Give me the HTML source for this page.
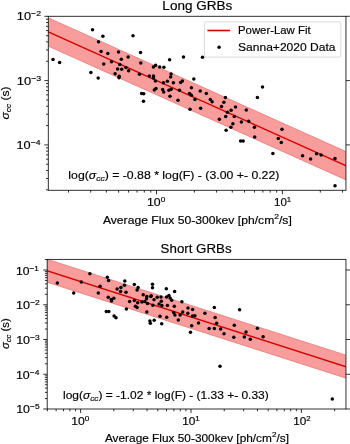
<!DOCTYPE html><html><head><meta charset="utf-8"><style>html,body{margin:0;padding:0;background:#fff;overflow:hidden}svg{display:block}</style></head><body><svg width="350" height="444" viewBox="0 0 350 444">
<filter id="bl" x="0" y="0" width="1" height="1"><feGaussianBlur stdDeviation="0.32"/></filter><g filter="url(#bl)">
<rect width="350" height="444" fill="#fff"/>
<clipPath id="c1"><rect x="48.3" y="16.3" width="297.65" height="174.0"/></clipPath>
<g clip-path="url(#c1)">
<polygon points="46.30,16.93 347.95,152.50 347.95,180.79 46.30,45.22" fill="#f89c9c" stroke="#ec8282" stroke-width="0.9"/>
<line x1="46.30" y1="31.07" x2="347.95" y2="166.64" stroke="#d40000" stroke-width="1.4"/>
<circle cx="92.5" cy="29.7" r="1.75"/>
<circle cx="102.9" cy="36.3" r="1.75"/>
<circle cx="98.5" cy="41.7" r="1.75"/>
<circle cx="101.1" cy="51.5" r="1.75"/>
<circle cx="107.8" cy="53.6" r="1.75"/>
<circle cx="118.5" cy="52.0" r="1.75"/>
<circle cx="53" cy="59.6" r="1.75"/>
<circle cx="59.6" cy="62.4" r="1.75"/>
<circle cx="103.7" cy="63.9" r="1.75"/>
<circle cx="111.5" cy="61.7" r="1.75"/>
<circle cx="117.6" cy="69.0" r="1.75"/>
<circle cx="90.9" cy="72.5" r="1.75"/>
<circle cx="115.1" cy="73.8" r="1.75"/>
<circle cx="98.2" cy="78.1" r="1.75"/>
<circle cx="133" cy="35.8" r="1.75"/>
<circle cx="140.5" cy="52.5" r="1.75"/>
<circle cx="128.1" cy="57.1" r="1.75"/>
<circle cx="121.3" cy="59.3" r="1.75"/>
<circle cx="169.6" cy="59.7" r="1.75"/>
<circle cx="140.8" cy="63.1" r="1.75"/>
<circle cx="119.8" cy="64.5" r="1.75"/>
<circle cx="155.6" cy="65.2" r="1.75"/>
<circle cx="153.4" cy="67.1" r="1.75"/>
<circle cx="159.7" cy="67.0" r="1.75"/>
<circle cx="163.9" cy="67.3" r="1.75"/>
<circle cx="121.7" cy="69.3" r="1.75"/>
<circle cx="125.9" cy="67.5" r="1.75"/>
<circle cx="128.6" cy="70.8" r="1.75"/>
<circle cx="119.2" cy="76.2" r="1.75"/>
<circle cx="119.0" cy="77.8" r="1.75"/>
<circle cx="139.5" cy="74.2" r="1.75"/>
<circle cx="149.3" cy="75.9" r="1.75"/>
<circle cx="153.5" cy="76.0" r="1.75"/>
<circle cx="153.5" cy="77.9" r="1.75"/>
<circle cx="155.4" cy="81.1" r="1.75"/>
<circle cx="163.4" cy="82.7" r="1.75"/>
<circle cx="167.4" cy="81.2" r="1.75"/>
<circle cx="171.1" cy="74.0" r="1.75"/>
<circle cx="170.6" cy="77.1" r="1.75"/>
<circle cx="173.4" cy="82.7" r="1.75"/>
<circle cx="183.5" cy="57.1" r="1.75"/>
<circle cx="202.5" cy="57.2" r="1.75"/>
<circle cx="193.8" cy="78.9" r="1.75"/>
<circle cx="180.6" cy="82.4" r="1.75"/>
<circle cx="182.4" cy="81.1" r="1.75"/>
<circle cx="154.3" cy="90" r="1.75"/>
<circle cx="156" cy="88.4" r="1.75"/>
<circle cx="162.6" cy="89.6" r="1.75"/>
<circle cx="163.7" cy="92.0" r="1.75"/>
<circle cx="168.9" cy="90.2" r="1.75"/>
<circle cx="171.1" cy="89.2" r="1.75"/>
<circle cx="179.5" cy="90.3" r="1.75"/>
<circle cx="141.6" cy="93.5" r="1.75"/>
<circle cx="143.7" cy="93.8" r="1.75"/>
<circle cx="143.5" cy="101.2" r="1.75"/>
<circle cx="170" cy="96.3" r="1.75"/>
<circle cx="178" cy="100.2" r="1.75"/>
<circle cx="191.4" cy="87.7" r="1.75"/>
<circle cx="200.2" cy="91.1" r="1.75"/>
<circle cx="206.3" cy="93.4" r="1.75"/>
<circle cx="189.5" cy="93.6" r="1.75"/>
<circle cx="191.4" cy="95.2" r="1.75"/>
<circle cx="194.9" cy="99.4" r="1.75"/>
<circle cx="210.3" cy="99.4" r="1.75"/>
<circle cx="212.1" cy="101.8" r="1.75"/>
<circle cx="190" cy="109.3" r="1.75"/>
<circle cx="200.6" cy="108.2" r="1.75"/>
<circle cx="225.4" cy="97.5" r="1.75"/>
<circle cx="223.9" cy="102.3" r="1.75"/>
<circle cx="221.5" cy="106.4" r="1.75"/>
<circle cx="235.5" cy="106.9" r="1.75"/>
<circle cx="231.1" cy="110.2" r="1.75"/>
<circle cx="227.4" cy="112.3" r="1.75"/>
<circle cx="225.7" cy="116.6" r="1.75"/>
<circle cx="246.3" cy="110.1" r="1.75"/>
<circle cx="234.3" cy="116.6" r="1.75"/>
<circle cx="219.4" cy="119.2" r="1.75"/>
<circle cx="241.4" cy="121.9" r="1.75"/>
<circle cx="248.6" cy="121.2" r="1.75"/>
<circle cx="232.9" cy="123.8" r="1.75"/>
<circle cx="230.9" cy="127.2" r="1.75"/>
<circle cx="226.1" cy="130.3" r="1.75"/>
<circle cx="254.4" cy="127.3" r="1.75"/>
<circle cx="254.7" cy="137.1" r="1.75"/>
<circle cx="282" cy="129.2" r="1.75"/>
<circle cx="278.3" cy="138.5" r="1.75"/>
<circle cx="281.3" cy="142.6" r="1.75"/>
<circle cx="316.6" cy="153.8" r="1.75"/>
<circle cx="302.6" cy="155.7" r="1.75"/>
<circle cx="310.6" cy="159.1" r="1.75"/>
<circle cx="321.1" cy="155.0" r="1.75"/>
<circle cx="335.0" cy="158.6" r="1.75"/>
<circle cx="335.0" cy="185.8" r="1.75"/>
<circle cx="240.6" cy="140.9" r="1.75"/>
<circle cx="243.2" cy="141.1" r="1.75"/>
<circle cx="272.9" cy="153.4" r="1.75"/>
<circle cx="262.5" cy="87.1" r="1.75"/>
<circle cx="257.4" cy="97.4" r="1.75"/>
</g>
<rect x="48.3" y="16.3" width="297.65" height="174.00" fill="none" stroke="#1a1a1a" stroke-width="0.9"/>
<path d="M156.50,190.3v4M282.40,190.3v4M68.50,190.3v2.3M90.67,190.3v2.3M106.40,190.3v2.3M118.60,190.3v2.3M128.57,190.3v2.3M137.00,190.3v2.3M144.30,190.3v2.3M150.74,190.3v2.3M194.40,190.3v2.3M216.57,190.3v2.3M232.30,190.3v2.3M244.50,190.3v2.3M254.47,190.3v2.3M262.90,190.3v2.3M270.20,190.3v2.3M276.64,190.3v2.3M320.30,190.3v2.3M342.47,190.3v2.3M48.3,16.30h-4M345.95,16.30h4M48.3,80.60h-4M345.95,80.60h4M48.3,144.90h-4M345.95,144.90h4M48.3,189.84h-2.3M48.3,178.52h-2.3M48.3,170.49h-2.3M48.3,164.26h-2.3M48.3,159.16h-2.3M48.3,154.86h-2.3M48.3,151.13h-2.3M48.3,147.84h-2.3M48.3,125.54h-2.3M48.3,114.22h-2.3M48.3,106.19h-2.3M48.3,99.96h-2.3M48.3,94.86h-2.3M48.3,90.56h-2.3M48.3,86.83h-2.3M48.3,83.54h-2.3M48.3,61.24h-2.3M48.3,49.92h-2.3M48.3,41.89h-2.3M48.3,35.66h-2.3M48.3,30.56h-2.3M48.3,26.26h-2.3M48.3,22.53h-2.3M48.3,19.24h-2.3" stroke="#000" stroke-width="0.8" fill="none"/>
<clipPath id="c2"><rect x="47.2" y="259.4" width="298.75" height="149.60000000000002"/></clipPath>
<g clip-path="url(#c2)">
<polygon points="45.20,258.63 347.95,355.84 347.95,378.77 45.20,281.57" fill="#f89c9c" stroke="#ec8282" stroke-width="0.9"/>
<line x1="45.20" y1="270.10" x2="347.95" y2="367.30" stroke="#d40000" stroke-width="1.4"/>
<circle cx="57.3" cy="283" r="1.75"/>
<circle cx="73.7" cy="293" r="1.75"/>
<circle cx="81.3" cy="282" r="1.75"/>
<circle cx="89.9" cy="273.7" r="1.75"/>
<circle cx="100.1" cy="286.2" r="1.75"/>
<circle cx="98.3" cy="292.9" r="1.75"/>
<circle cx="107.3" cy="277.2" r="1.75"/>
<circle cx="108.6" cy="280.4" r="1.75"/>
<circle cx="108.2" cy="297.2" r="1.75"/>
<circle cx="111.2" cy="299.4" r="1.75"/>
<circle cx="113.8" cy="298.3" r="1.75"/>
<circle cx="111.5" cy="301" r="1.75"/>
<circle cx="117.1" cy="289" r="1.75"/>
<circle cx="120.9" cy="287.4" r="1.75"/>
<circle cx="120.6" cy="291.6" r="1.75"/>
<circle cx="124.8" cy="280.9" r="1.75"/>
<circle cx="124.5" cy="285.3" r="1.75"/>
<circle cx="126" cy="292.3" r="1.75"/>
<circle cx="129.6" cy="301.6" r="1.75"/>
<circle cx="126.4" cy="309" r="1.75"/>
<circle cx="106.3" cy="311.4" r="1.75"/>
<circle cx="108.8" cy="311.4" r="1.75"/>
<circle cx="114.1" cy="316" r="1.75"/>
<circle cx="116" cy="317.7" r="1.75"/>
<circle cx="134.3" cy="284.4" r="1.75"/>
<circle cx="138.1" cy="287.6" r="1.75"/>
<circle cx="137.1" cy="289.9" r="1.75"/>
<circle cx="152.5" cy="284.2" r="1.75"/>
<circle cx="152.5" cy="287.8" r="1.75"/>
<circle cx="166.3" cy="288.8" r="1.75"/>
<circle cx="174.6" cy="291.5" r="1.75"/>
<circle cx="143.2" cy="294.7" r="1.75"/>
<circle cx="146.8" cy="296.4" r="1.75"/>
<circle cx="146.6" cy="298.8" r="1.75"/>
<circle cx="151.2" cy="295.8" r="1.75"/>
<circle cx="150.8" cy="296.6" r="1.75"/>
<circle cx="157.2" cy="297.3" r="1.75"/>
<circle cx="154" cy="299.7" r="1.75"/>
<circle cx="161" cy="297.1" r="1.75"/>
<circle cx="166.5" cy="297.0" r="1.75"/>
<circle cx="168.9" cy="295.4" r="1.75"/>
<circle cx="170.1" cy="298.1" r="1.75"/>
<circle cx="171.7" cy="300.3" r="1.75"/>
<circle cx="134.3" cy="300.6" r="1.75"/>
<circle cx="137.7" cy="302.8" r="1.75"/>
<circle cx="141.9" cy="302.1" r="1.75"/>
<circle cx="144.8" cy="301.4" r="1.75"/>
<circle cx="147.5" cy="303.4" r="1.75"/>
<circle cx="152.9" cy="305.2" r="1.75"/>
<circle cx="161.3" cy="301.3" r="1.75"/>
<circle cx="159.1" cy="304" r="1.75"/>
<circle cx="161.9" cy="305.4" r="1.75"/>
<circle cx="135.4" cy="306.3" r="1.75"/>
<circle cx="137.1" cy="307.6" r="1.75"/>
<circle cx="146.8" cy="311.9" r="1.75"/>
<circle cx="160" cy="316.3" r="1.75"/>
<circle cx="166.7" cy="317.2" r="1.75"/>
<circle cx="161.7" cy="323.7" r="1.75"/>
<circle cx="149.9" cy="321" r="1.75"/>
<circle cx="154.2" cy="320.2" r="1.75"/>
<circle cx="150.3" cy="323.3" r="1.75"/>
<circle cx="167.4" cy="305.4" r="1.75"/>
<circle cx="174.3" cy="306.3" r="1.75"/>
<circle cx="181.9" cy="301.7" r="1.75"/>
<circle cx="188" cy="308" r="1.75"/>
<circle cx="192.6" cy="309.5" r="1.75"/>
<circle cx="182.7" cy="312" r="1.75"/>
<circle cx="187.8" cy="313.2" r="1.75"/>
<circle cx="173.7" cy="312.6" r="1.75"/>
<circle cx="174.9" cy="315.1" r="1.75"/>
<circle cx="180.1" cy="315.1" r="1.75"/>
<circle cx="192.5" cy="316.1" r="1.75"/>
<circle cx="194.9" cy="315.7" r="1.75"/>
<circle cx="178.3" cy="320" r="1.75"/>
<circle cx="191.7" cy="325.8" r="1.75"/>
<circle cx="190.5" cy="332.3" r="1.75"/>
<circle cx="214.3" cy="307.4" r="1.75"/>
<circle cx="204.9" cy="313.2" r="1.75"/>
<circle cx="215.1" cy="317.6" r="1.75"/>
<circle cx="198.5" cy="322.9" r="1.75"/>
<circle cx="216.6" cy="323.3" r="1.75"/>
<circle cx="209.1" cy="328.6" r="1.75"/>
<circle cx="214.3" cy="328.4" r="1.75"/>
<circle cx="220.6" cy="328.9" r="1.75"/>
<circle cx="224" cy="333.7" r="1.75"/>
<circle cx="234.3" cy="325.2" r="1.75"/>
<circle cx="233.8" cy="337.2" r="1.75"/>
<circle cx="239.6" cy="309.7" r="1.75"/>
<circle cx="257.4" cy="328.3" r="1.75"/>
<circle cx="246" cy="332.1" r="1.75"/>
<circle cx="244.3" cy="337" r="1.75"/>
<circle cx="250.3" cy="339.3" r="1.75"/>
<circle cx="263.1" cy="336.8" r="1.75"/>
<circle cx="220" cy="366.3" r="1.75"/>
<circle cx="332.3" cy="398.9" r="1.75"/>
</g>
<rect x="47.2" y="259.4" width="298.75" height="149.60" fill="none" stroke="#1a1a1a" stroke-width="0.9"/>
<path d="M80.60,409.0v4M191.00,409.0v4M301.40,409.0v4M47.37,409.0v2.3M56.11,409.0v2.3M63.50,409.0v2.3M69.90,409.0v2.3M75.55,409.0v2.3M113.83,409.0v2.3M133.27,409.0v2.3M147.07,409.0v2.3M157.77,409.0v2.3M166.51,409.0v2.3M173.90,409.0v2.3M180.30,409.0v2.3M185.95,409.0v2.3M224.23,409.0v2.3M243.67,409.0v2.3M257.47,409.0v2.3M268.17,409.0v2.3M276.91,409.0v2.3M284.30,409.0v2.3M290.70,409.0v2.3M296.35,409.0v2.3M334.63,409.0v2.3M47.2,270.00h-4M345.95,270.00h4M47.2,304.75h-4M345.95,304.75h4M47.2,339.50h-4M345.95,339.50h4M47.2,374.25h-4M345.95,374.25h4M47.2,409.00h-4M345.95,409.00h4M47.2,398.54h-2.3M47.2,392.42h-2.3M47.2,388.08h-2.3M47.2,384.71h-2.3M47.2,381.96h-2.3M47.2,379.63h-2.3M47.2,377.62h-2.3M47.2,375.84h-2.3M47.2,363.79h-2.3M47.2,357.67h-2.3M47.2,353.33h-2.3M47.2,349.96h-2.3M47.2,347.21h-2.3M47.2,344.88h-2.3M47.2,342.87h-2.3M47.2,341.09h-2.3M47.2,329.04h-2.3M47.2,322.92h-2.3M47.2,318.58h-2.3M47.2,315.21h-2.3M47.2,312.46h-2.3M47.2,310.13h-2.3M47.2,308.12h-2.3M47.2,306.34h-2.3M47.2,294.29h-2.3M47.2,288.17h-2.3M47.2,283.83h-2.3M47.2,280.46h-2.3M47.2,277.71h-2.3M47.2,275.38h-2.3M47.2,273.37h-2.3M47.2,271.59h-2.3M47.2,259.54h-2.3" stroke="#000" stroke-width="0.8" fill="none"/>
<rect x="204.4" y="21.9" width="136.5" height="35.2" rx="2" ry="2" fill="#fff" fill-opacity="0.8" stroke="#d6d6d6" stroke-width="0.9"/>
<line x1="207.4" y1="30.5" x2="230.1" y2="30.5" stroke="#d40000" stroke-width="1.6"/>
<circle cx="219.1" cy="47.3" r="1.7"/>
<g font-family='"Liberation Sans", sans-serif' fill="#000" stroke="#000" stroke-width="0.18" style="will-change:transform">
<g transform="translate(162.37,9.60) scale(1.0254,1)"><text x="0" y="0" font-size="13.2">Long GRBs</text></g>
<g transform="translate(160.60,252.80) scale(1.0087,1)"><text x="0" y="0" font-size="13.2">Short GRBs</text></g>
<g transform="translate(102.89,223.60) scale(1.0405,1)"><text x="0" y="0" font-size="11.7">Average Flux 50-300kev [ph/cm<tspan font-size="8.1" dy="-4.4">2</tspan><tspan dy="4.4">/s]</tspan></text></g>
<g transform="translate(104.93,441.70) scale(1.0128,1)"><text x="0" y="0" font-size="11.7">Average Flux 50-300kev [ph/cm<tspan font-size="8.1" dy="-4.4">2</tspan><tspan dy="4.4">/s]</tspan></text></g>
<g transform="translate(68.33,178.90) scale(1.0504,1)"><text x="0" y="0" font-size="11.7">log(<tspan font-style="italic">σ</tspan><tspan font-size="8.1" font-style="italic" dy="2.0">cc</tspan><tspan dy="-2.0">) = -0.88 * log(F) - (3.00 +- 0.22)</tspan></text></g>
<g transform="translate(63.02,398.90) scale(1.0234,1)"><text x="0" y="0" font-size="11.7">log(<tspan font-style="italic">σ</tspan><tspan font-size="8.1" font-style="italic" dy="2.0">cc</tspan><tspan dy="-2.0">) = -1.02 * log(F) - (1.33 +- 0.33)</tspan></text></g>
<g transform="translate(238.02,34.20) scale(0.9721,1)"><text x="0" y="0" font-size="11.7">Power-Law Fit</text></g>
<g transform="translate(238.07,50.90) scale(1.0302,1)"><text x="0" y="0" font-size="11.7">Sanna+2020 Data</text></g>
<g transform="translate(8.64,119.56) rotate(-90) scale(1.0321,1)"><text x="0" y="0" font-size="11.7"><tspan font-style="italic">σ</tspan><tspan font-size="8.1" font-style="italic" dy="2.0">cc</tspan><tspan dy="-2.0"> (s)</tspan></text></g>
<g transform="translate(8.64,349.11) rotate(-90) scale(0.9601,1)"><text x="0" y="0" font-size="11.7"><tspan font-style="italic">σ</tspan><tspan font-size="8.1" font-style="italic" dy="2.0">cc</tspan><tspan dy="-2.0"> (s)</tspan></text></g>
<g transform="translate(16.84,20.08) scale(1.0953,1)"><text x="0" y="0" font-size="11.7">10<tspan font-size="7.9" dy="-4.0">−2</tspan></text></g>
<g transform="translate(16.82,84.82) scale(1.1095,1)"><text x="0" y="0" font-size="11.7">10<tspan font-size="7.9" dy="-4.0">−3</tspan></text></g>
<g transform="translate(16.54,149.12) scale(1.0897,1)"><text x="0" y="0" font-size="11.7">10<tspan font-size="7.9" dy="-4.0">−4</tspan></text></g>
<g transform="translate(16.06,275.09) scale(1.0367,1)"><text x="0" y="0" font-size="11.7">10<tspan font-size="7.9" dy="-4.0">−1</tspan></text></g>
<g transform="translate(16.10,309.33) scale(1.0796,1)"><text x="0" y="0" font-size="11.7">10<tspan font-size="7.9" dy="-4.0">−2</tspan></text></g>
<g transform="translate(16.13,344.07) scale(1.0706,1)"><text x="0" y="0" font-size="11.7">10<tspan font-size="7.9" dy="-4.0">−3</tspan></text></g>
<g transform="translate(15.98,378.93) scale(1.0601,1)"><text x="0" y="0" font-size="11.7">10<tspan font-size="7.9" dy="-4.0">−4</tspan></text></g>
<g transform="translate(16.18,413.18) scale(1.0619,1)"><text x="0" y="0" font-size="11.7">10<tspan font-size="7.9" dy="-4.0">−5</tspan></text></g>
<g transform="translate(146.94,206.24) scale(1.0519,1)"><text x="0" y="0" font-size="11.7">10<tspan font-size="7.9" dy="-4.0">0</tspan></text></g>
<g transform="translate(274.02,206.32) scale(0.9861,1)"><text x="0" y="0" font-size="11.7">10<tspan font-size="7.9" dy="-4.0">1</tspan></text></g>
<g transform="translate(71.24,424.68) scale(1.0418,1)"><text x="0" y="0" font-size="11.7">10<tspan font-size="7.9" dy="-4.0">0</tspan></text></g>
<g transform="translate(182.19,425.41) scale(1.0103,1)"><text x="0" y="0" font-size="11.7">10<tspan font-size="7.9" dy="-4.0">1</tspan></text></g>
<g transform="translate(293.25,425.38) scale(1.0041,1)"><text x="0" y="0" font-size="11.7">10<tspan font-size="7.9" dy="-4.0">2</tspan></text></g>
</g>
</g>
</svg></body></html>
